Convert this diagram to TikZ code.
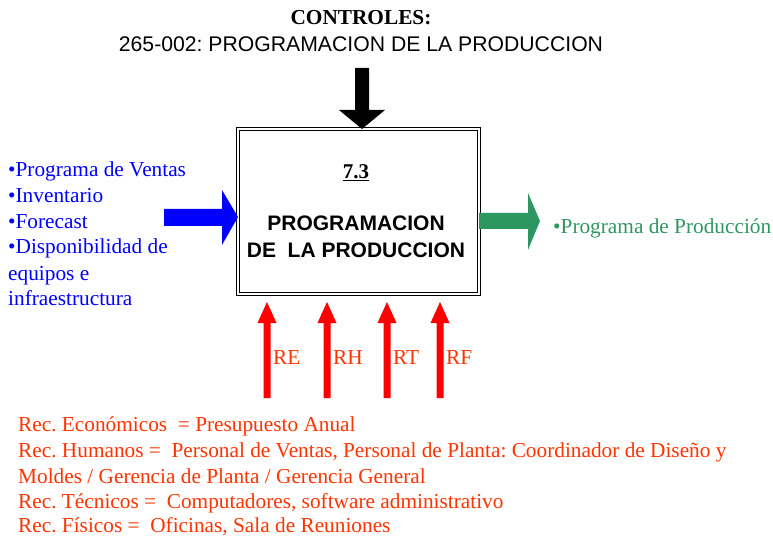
\documentclass[tikz,border=0pt]{standalone}
\usepackage{fontspec}
\setmainfont{Liberation Serif}
\newfontfamily\arial{Liberation Sans}
\begin{document}
\frenchspacing
\begin{tikzpicture}[x=1pt,y=-1pt,
  serif/.style={font=\fontsize{21.3}{25}\selectfont, inner sep=0pt, anchor=base west},
  bluetxt/.style={serif, text=inblue},
  redtxt/.style={serif, text=recred},
]
\definecolor{inblue}{RGB}{0,0,255}
\definecolor{outgreen}{RGB}{46,150,96}
\definecolor{recred}{RGB}{255,51,0}
\definecolor{arrred}{RGB}{255,0,0}
\useasboundingbox (0,0) rectangle (773,537);

% titles
\node[inner sep=0pt, anchor=base, font=\fontsize{21.3}{25}\selectfont\bfseries] (ctl) at (361,25) {CONTROLES:};
\node[inner sep=0pt, anchor=base, font=\arial\fontsize{21.2}{25}\selectfont] (ctlname) at (361,52) {265-002: PROGRAMACION DE LA PRODUCCION};

% main box
\node[draw, double, double distance=2pt, line width=0.9pt, minimum width=241pt, minimum height=165pt, inner sep=0pt, outer sep=0pt] (box) at (358.5,211.5) {};
\node[inner sep=0pt, anchor=base, font=\fontsize{21}{25}\selectfont\bfseries] (num) at (356,179) {\underline{7.3}};
\node[inner sep=0pt, anchor=base, font=\arial\bfseries\fontsize{21}{25}\selectfont] (title1) at (356,231) {PROGRAMACION};
\node[inner sep=0pt, anchor=base, font=\arial\bfseries\fontsize{21}{25}\selectfont] (title2) at (356,258) {DE\ \ LA PRODUCCION};

% control arrow
\coordinate (ctip) at (box.north -| 362,0);
\fill[black] (355,68) -- (369,68) -- (369,110) -- (385,110) -- (ctip) -- (339,110) -- (355,110) -- cycle;

% input arrow
\coordinate (itip) at (box.west |- 0,217);
\fill[inblue] (164,209) -- (222,209) -- (222,190) -- (itip) -- (222,245) -- (222,226) -- (164,226) -- cycle;

% output arrow
\coordinate (obase) at (box.east |- 0,213);
\fill[outgreen] (obase) -- (528,213) -- (528,193) -- (540,221) -- (528,250) -- (528,229) -- (box.east |- 0,229) -- cycle;

% inputs text
\node[bluetxt] (i1) at (8,177) {•Programa de Ventas};
\node[bluetxt] (i2) at (8,203) {•Inventario};
\node[bluetxt] (i3) at (8,229) {•Forecast};
\node[bluetxt] (i4) at (8,254) {•Disponibilidad de};
\node[bluetxt] (i5) at (8,280) {equipos e};
\node[bluetxt] (i6) at (8,305) {infraestructura};

% output text
\node[serif, text=outgreen] (o1) at (553,234) {•Programa de Producción};

% resource arrows
\foreach \x/\n in {267/RE,327/RH,387/RT,440/RF}{
  \coordinate (b\n) at (\x,398);
  \coordinate (t\n) at (\x,302);
  \fill[arrred] (\x-3.5,398) -- (\x+3.5,398) -- (\x+3.5,323) -- (\x+9.5,323) -- (t\n) -- (\x-9.5,323) -- (\x-3.5,323) -- cycle;
  \node[redtxt] (l\n) at (\x+6,364) {\n};
}

% resources text
\node[redtxt] (r1) at (18,431) {Rec. Económicos\ \ = Presupuesto Anual};
\node[redtxt] (r2) at (18,457) {Rec. Humanos =\ \ Personal de Ventas, Personal de Planta: Coordinador de Diseño y};
\node[redtxt] (r3) at (18,483) {Moldes / Gerencia de Planta / Gerencia General};
\node[redtxt] (r4) at (18,508) {Rec. Técnicos =\ \ Computadores, software administrativo};
\node[redtxt] (r5) at (18,532) {Rec. Físicos =\ \ Oficinas, Sala de Reuniones};
\end{tikzpicture}
\end{document}
